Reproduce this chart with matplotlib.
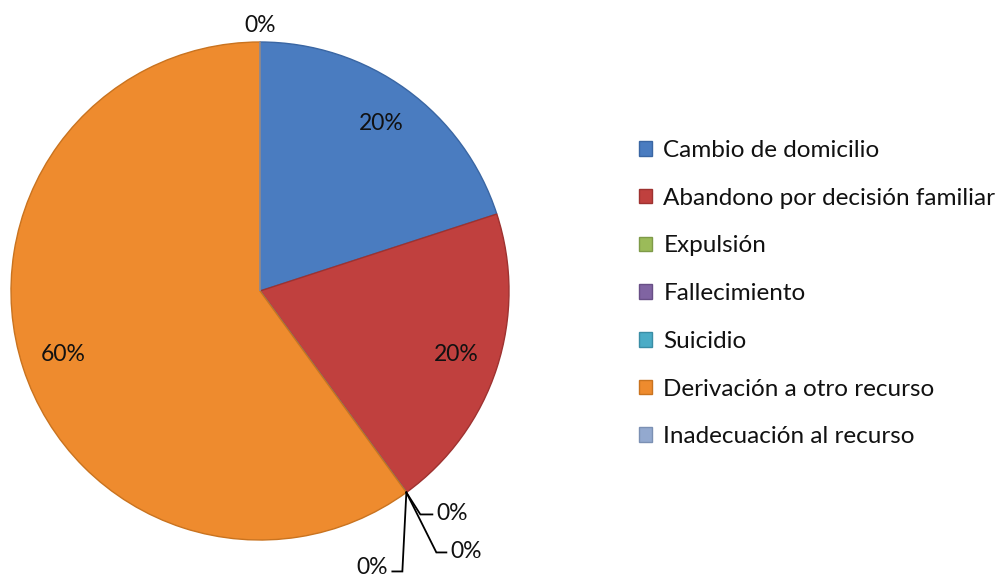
import matplotlib
matplotlib.use("Agg")
import matplotlib.pyplot as plt
import numpy as np

categories = ["Cambio de domicilio", "Abandono por decisión familiar", "Expulsión",
              "Fallecimiento", "Suicidio", "Derivación a otro recurso",
              "Inadecuación al recurso"]
values = [20, 20, 0, 0, 0, 60, 0]
colors = ["#4A7CC0", "#C0403E", "#9BBB59", "#8064A2", "#4BACC6", "#EE8B2E", "#93A9CF"]
edge_colors = ["#3A66A3", "#9E3230", "#7E9A48", "#684F86", "#3A8DA5", "#C9731F", "#7B90B3"]

plt.rcParams['font.family'] = ['Lato', 'DejaVu Sans']

W, H = 999, 577
fig = plt.figure(figsize=(W / 100, H / 100), dpi=100)
ax = fig.add_axes([0, 0, 1, 1])

cx, cy, R = 260, 577 - 291, 249
wedges, _ = ax.pie(values, colors=colors, startangle=90, counterclock=False,
                   center=(cx, cy), radius=R, frame=True,
                   wedgeprops=dict(linewidth=1.0))
for w, ec in zip(wedges, edge_colors):
    w.set_edgecolor(ec)
ax.set_xlim(0, W)
ax.set_ylim(0, H)
ax.set_aspect('equal')
ax.axis('off')

total = sum(values)
fs = 16.5
# labels for non-zero slices
for w, v in zip(wedges, values):
    if v > 0:
        mid = np.deg2rad((w.theta1 + w.theta2) / 2)
        r = 0.83 * R
        ax.text(cx + r * np.cos(mid), cy + r * np.sin(mid), f"{v / total:.0%}",
                ha='center', va='center', fontsize=fs, color='#111111')

# zero slices: leader lines
zero_idx = [i for i, v in enumerate(values) if v == 0]
label_offsets = {2: ((14, -22), (26, -22), (30, -21)),
                 3: ((30, -60), (40, -60), (44, -59)),
                 4: ((-4, -79), (-14, -79), (-18, -75))}
for i in zero_idx:
    ang = np.deg2rad(wedges[i].theta1)
    ax0, ay0 = cx + R * np.cos(ang), cy + R * np.sin(ang)
    if i in label_offsets:
        (ex, ey), (hx, hy), (tx, ty) = label_offsets[i]
        ax.plot([ax0, ax0 + ex, ax0 + hx], [ay0, ay0 + ey, ay0 + hy],
                color='black', lw=1.3, solid_joinstyle='miter')
        ha = 'left' if tx > 0 else 'right'
        ax.text(ax0 + tx, ay0 + ty, "0%", ha=ha, va='center', fontsize=fs, color='#111111')
    else:
        ax.text(ax0, ay0 + 17, "0%", ha='center', va='center', fontsize=fs, color='#111111')

leg = ax.legend(wedges, categories, loc='upper left', bbox_to_anchor=(639 / W, 1 - 140 / H),
                bbox_transform=fig.transFigure, frameon=False, fontsize=17.5,
                handlelength=0.55, handleheight=0.55, handletextpad=0.45,
                labelspacing=1.1, borderpad=0, borderaxespad=0)
for t in leg.get_texts():
    t.set_color('#111111')

fig.savefig("out.png", dpi=100)
